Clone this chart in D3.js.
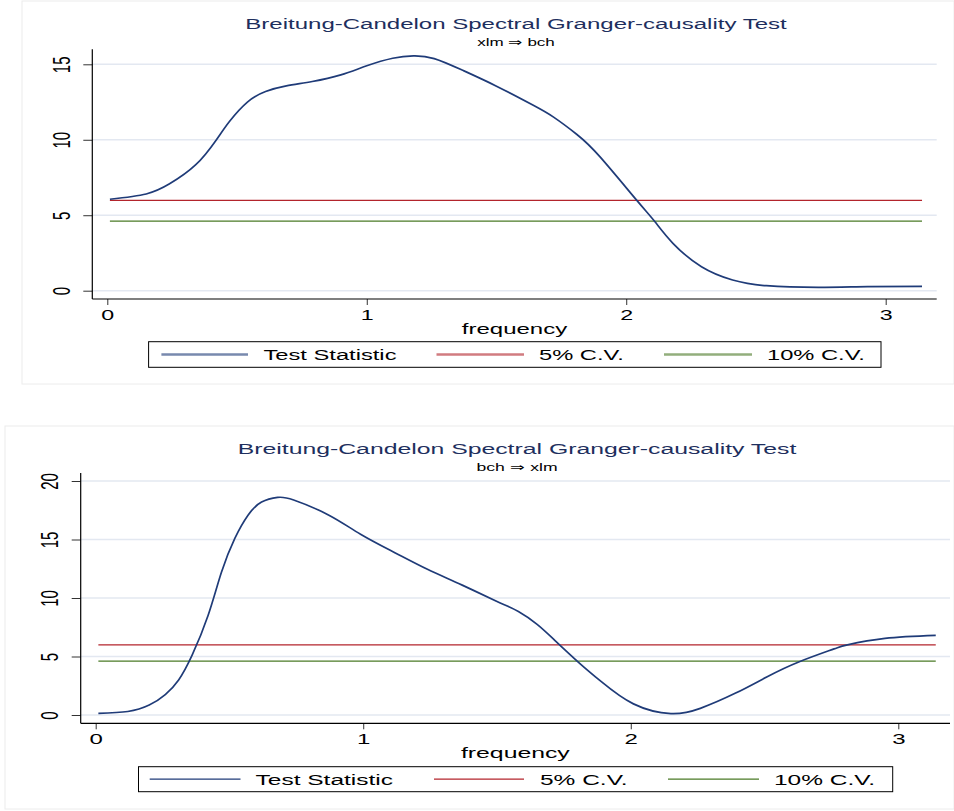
<!DOCTYPE html>
<html>
<head>
<meta charset="utf-8">
<script src="https://cdn.jsdelivr.net/npm/d3@7"></script>
<style>
  body { margin: 0; background: #fff; }
  text { font-family: "Liberation Sans", Arial, sans-serif; }
</style>
</head>
<body>
<svg id="chart" width="954" height="811"></svg>
<script>
// values
let xTicks = [0, 1, 2, 3];
let topYTicks = [0, 5, 10, 15];
let botYTicks = [0, 5, 10, 15, 20];
let seriesNames = ["Test Statistic", "5% C.V.", "10% C.V."];
let cv5 = 5.99;
let cv10 = 4.61;

// xlm => bch
let topFreq = [0.01, 0.15, 0.24, 0.34, 0.42, 0.47, 0.54, 0.61, 0.69, 0.79, 0.90, 1.00, 1.10, 1.18, 1.26, 1.37,
  1.50, 1.64, 1.72, 1.81, 1.90, 2.04, 2.11, 2.18, 2.29, 2.41, 2.54, 2.74, 2.93, 3.14];
let topStat = [6.06, 6.41, 7.08, 8.33, 9.99, 11.2, 12.5, 13.2, 13.57, 13.86, 14.3, 14.9, 15.4, 15.56, 15.38, 14.6,
  13.55, 12.3, 11.5, 10.35, 8.85, 6.0, 4.58, 3.14, 1.59, 0.71, 0.33, 0.22, 0.27, 0.29];

// bch => xlm
let botFreq = [0.01, 0.12, 0.20, 0.26, 0.31, 0.36, 0.42, 0.47, 0.52, 0.57, 0.62, 0.68, 0.74, 0.87, 0.99, 1.12,
  1.24, 1.37, 1.51, 1.58, 1.65, 1.72, 1.81, 1.89, 2.01, 2.15, 2.26, 2.39, 2.51, 2.63, 2.76, 2.81, 2.95, 3.14];
let botStat = [0.14, 0.3, 0.85, 1.75, 3.0, 5.1, 8.5, 12.2, 15.1, 17.1, 18.2, 18.6, 18.38, 17.1, 15.45, 13.85,
  12.45, 11.1, 9.6, 8.85, 7.75, 6.3, 4.4, 2.85, 0.95, 0.12, 0.57, 1.85, 3.27, 4.55, 5.65, 6.0, 6.55, 6.81];

let colors = ["#1f3b78", "#b3242c", "#4a7a26"];
let svg = d3.select("#chart");

// the exported picture is stretched sideways, so text is too
function stext(g, x, y, str, size, sx, opts = {}) {
  return g.append("text")
    .attr("transform", `translate(${x},${y}) scale(${sx},1)`)
    .attr("text-anchor", opts.anchor || "middle")
    .attr("font-size", size)
    .attr("fill", opts.fill || "#000")
    .text(str);
}

function drawPanel(p, freq, stat, yTicks, subtitle) {
  let g = svg.append("g");

  g.append("rect")
    .attr("x", p.box[0]).attr("y", p.box[1])
    .attr("width", p.box[2] - p.box[0]).attr("height", p.box[3] - p.box[1])
    .attr("fill", "none").attr("stroke", "#ececec");

  let x = d3.scaleLinear().domain([0, 3]).range(p.xr);
  let y = d3.scaleLinear().domain([0, d3.max(yTicks)]).range(p.yr);

  // grid
  g.selectAll(".grid").data(yTicks).join("line")
    .attr("x1", p.left).attr("x2", p.right)
    .attr("y1", d => y(d)).attr("y2", d => y(d))
    .attr("stroke", "#e3e8f1").attr("stroke-width", 1.6);

  // x axis
  let xa = g.append("g").attr("transform", `translate(0,${p.axisY})`)
    .call(d3.axisBottom(x).tickValues(xTicks).tickSize(6).tickSizeOuter(0).tickFormat(d3.format("d")));
  xa.select(".domain").remove();
  xa.selectAll(".tick line").attr("stroke", "#333");
  xa.selectAll(".tick text").attr("y", null).attr("dy", null)
    .attr("transform", `translate(0,20.5) scale(${p.sx},1)`)
    .attr("font-size", 15).attr("fill", "#000")
    .attr("font-family", "Liberation Sans, Arial, sans-serif");

  // y axis
  let ya = g.append("g").attr("transform", `translate(${p.left},0)`)
    .call(d3.axisLeft(y).tickValues(yTicks).tickSize(9).tickSizeOuter(0));
  ya.select(".domain").remove();
  ya.selectAll(".tick line").attr("stroke", "#333");
  ya.selectAll(".tick text").attr("x", null).attr("dy", null)
    .attr("transform", `translate(-22.5,0) scale(${p.sx},1) rotate(-90)`)
    .attr("text-anchor", "middle")
    .attr("font-size", 15).attr("fill", "#000")
    .attr("font-family", "Liberation Sans, Arial, sans-serif");

  g.append("line").attr("x1", p.left).attr("x2", p.left).attr("y1", p.top).attr("y2", p.axisY)
    .attr("stroke", "#000").attr("stroke-width", 1.2);
  g.append("line").attr("x1", p.left).attr("x2", p.right).attr("y1", p.axisY).attr("y2", p.axisY)
    .attr("stroke", "#000").attr("stroke-width", 1.2);

  // critical value lines
  let f0 = freq[0], f1 = freq[freq.length - 1];
  [cv5, cv10].forEach((v, i) => {
    g.append("line")
      .attr("x1", x(f0)).attr("x2", x(f1)).attr("y1", y(v)).attr("y2", y(v))
      .attr("stroke", colors[i + 1]).attr("stroke-width", 1.3);
  });

  // test statistic
  let line = d3.line().x(d => x(d[0])).y(d => y(d[1])).curve(d3.curveNatural);
  g.append("path")
    .datum(freq.map((f, i) => [f, stat[i]]))
    .attr("d", line)
    .attr("fill", "none").attr("stroke", colors[0]).attr("stroke-width", 1.7);

  // titles
  stext(g, p.cx, p.titleY, "Breitung-Candelon Spectral Granger-causality Test", 15.5, p.sx, { fill: "#1e2f5e" });
  stext(g, p.cx, p.titleY + 16.5, subtitle, 11, p.sx);
  stext(g, (p.left + p.right) / 2, p.axisY + 34.5, "frequency", 15.5, p.sx);

  // legend
  let L = p.legend;
  g.append("rect")
    .attr("x", L.box[0]).attr("y", L.box[1])
    .attr("width", L.box[2] - L.box[0]).attr("height", L.box[3] - L.box[1])
    .attr("fill", "#fff").attr("stroke", "#000").attr("stroke-width", 1);
  let ly = (L.box[1] + L.box[3]) / 2;
  seriesNames.forEach((name, i) => {
    g.append("line")
      .attr("x1", L.lines[i][0]).attr("x2", L.lines[i][1]).attr("y1", ly).attr("y2", ly)
      .attr("stroke", colors[i]).attr("stroke-width", L.lw).attr("opacity", L.op);
    stext(g, L.text[i], ly + 5.5, name, 15.3, p.sx, { anchor: "start" });
  });
}

drawPanel({
  box: [22, 1, 954, 384],
  left: 92.3, right: 936.7, top: 49.3, axisY: 299,
  xr: [107.3, 885.7], yr: [290.7, 64.3],
  sx: 1.55, cx: 516, titleY: 29,
  legend: {
    box: [148.6, 341.7, 881, 367.3],
    lines: [[161.4, 248], [436.5, 524], [664, 752]],
    text: [263.5, 539, 767], lw: 2.6, op: 0.6
  }
}, topFreq, topStat, topYTicks, "xlm \u21D2 bch");

drawPanel({
  box: [5, 426, 954, 809],
  left: 80.7, right: 950, top: 473, axisY: 723.3,
  xr: [95.7, 898.3], yr: [715, 481],
  sx: 1.6, cx: 517, titleY: 454,
  legend: {
    box: [138.5, 766.7, 892.7, 791.7],
    lines: [[149.7, 240.5], [434, 524], [668, 759]],
    text: [255.6, 540, 774], lw: 1.3, op: 1
  }
}, botFreq, botStat, botYTicks, "bch \u21D2 xlm");
</script>
</body>
</html>
